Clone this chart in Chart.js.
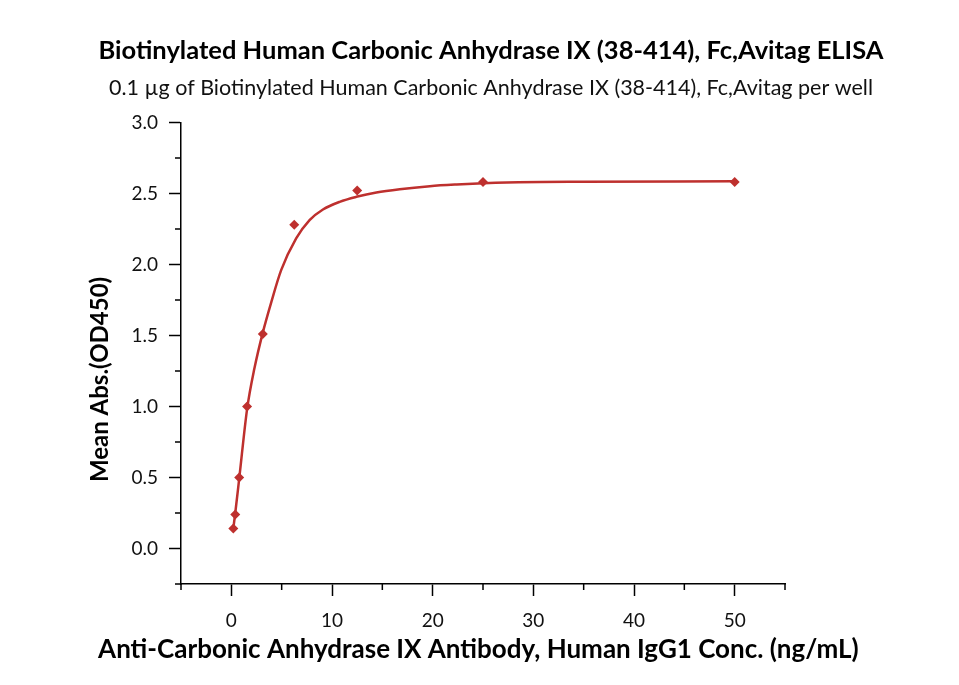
<!DOCTYPE html>
<html>
<head>
<meta charset="utf-8">
<script src="https://cdn.jsdelivr.net/npm/chart.js@4/dist/chart.umd.min.js"></script>
<style>
  html, body { margin: 0; padding: 0; background: #fff; }
  #wrap { width: 959px; height: 685px; position: relative; }
</style>
</head>
<body>
<div id="wrap"><canvas id="c" width="959" height="685"></canvas></div>
<script>
// ---- data ----
const concentrations = [0.195, 0.39, 0.78, 1.5625, 3.125, 6.25, 12.5, 25, 50];
const meanAbs        = [0.14, 0.24, 0.50, 1.00, 1.51, 2.28, 2.52, 2.58, 2.58];

// fitted curve
const fitX = [0.195, 0.39, 0.78, 1.5625, 2.3, 3.125, 3.95, 4.95, 6.44, 7.77, 9.1, 10.76, 12.42, 14.41, 16.73, 19.72, 22.38, 25.03, 27.36, 35, 50];
const fitY = [0.14, 0.25, 0.49, 0.98, 1.27, 1.52, 1.73, 1.96, 2.183, 2.312, 2.387, 2.441, 2.476, 2.507, 2.530, 2.551, 2.563, 2.572, 2.577, 2.582, 2.585];

const xMajorTicks = [0, 10, 20, 30, 40, 50];
const xMinorTicks = [-5, 5, 15, 25, 35, 45, 55];
const yMajorTicks = [0, 0.5, 1.0, 1.5, 2.0, 2.5, 3.0];
const yMinorTicks = [-0.25, 0.25, 0.75, 1.25, 1.75, 2.25, 2.75];
const yTickLabels = ['0.0', '0.5', '1.0', '1.5', '2.0', '2.5', '3.0'];

const titleText    = 'Biotinylated Human Carbonic Anhydrase IX (38-414), Fc,Avitag ELISA';
const subtitleText = '0.1 \u00b5g of Biotinylated Human Carbonic Anhydrase IX (38-414), Fc,Avitag per well';
const xTitle = 'Anti-Carbonic Anhydrase IX Antibody, Human IgG1 Conc. (ng/mL)';
const yTitle = 'Mean Abs.(OD450)';

const RED = 'rgb(190,48,46)';
const FONT = 'Lato, "Open Sans", sans-serif';

const minorTicksPlugin = {
  id: 'minorTicks',
  afterDraw(chart) {
    const ctx = chart.ctx;
    const xs = chart.scales.x, ys = chart.scales.y;
    ctx.save();
    ctx.strokeStyle = '#000';
    ctx.lineWidth = 1.5;
    ctx.beginPath();
    xMinorTicks.forEach(v => {
      const px = xs.getPixelForValue(v);
      ctx.moveTo(px, xs.top);
      ctx.lineTo(px, xs.top + 6);
    });
    yMinorTicks.forEach(v => {
      const py = ys.getPixelForValue(v);
      ctx.moveTo(ys.right, py);
      ctx.lineTo(ys.right - 6, py);
    });
    ctx.stroke();
    ctx.restore();
  }
};

new Chart(document.getElementById('c'), {
  type: 'scatter',
  data: {
    datasets: [
      {
        type: 'line',
        data: fitX.map((x, i) => ({ x, y: fitY[i] })),
        borderColor: RED,
        borderWidth: 2.5,
        pointRadius: 0,
        cubicInterpolationMode: 'monotone',
        fill: false
      },
      {
        data: concentrations.map((x, i) => ({ x, y: meanAbs[i] })),
        pointStyle: 'rectRot',
        pointRadius: 5,
        backgroundColor: RED,
        borderColor: RED,
        borderWidth: 0,
        showLine: false
      }
    ]
  },
  options: {
    responsive: false,
    animation: false,
    layout: { padding: { left: 23, right: 0, top: 0, bottom: 20 } },
    plugins: {
      legend: { display: false },
      tooltip: { enabled: false },
      title: {
        display: true, text: titleText, color: '#000',
        font: { family: FONT, size: 25.5, weight: 'bold' },
        padding: { top: 35, bottom: 5 }
      },
      subtitle: {
        display: true, text: subtitleText, color: '#111',
        font: { family: FONT, size: 21.5, weight: 'normal' },
        padding: { top: 5, bottom: 21 }
      }
    },
    scales: {
      x: {
        type: 'linear', min: -5, max: 55,
        afterBuildTicks: s => { s.ticks = xMajorTicks.map(v => ({ value: v })); },
        afterFit: s => { s.height = 50; },
        ticks: { color: '#111', font: { family: FONT, size: 19 }, padding: 13, maxRotation: 0 },
        grid: { drawOnChartArea: false, drawTicks: true, tickLength: 12, tickColor: '#000', tickWidth: 1.5 },
        border: { color: '#000', width: 1.5 },
        title: { display: false }
      },
      xTitleAxis: {
        type: 'linear', position: 'bottom', fullSize: true, min: 0, max: 1,
        afterFit: s => { s.height = 31; },
        ticks: { display: false },
        grid: { display: false },
        border: { display: false },
        title: { display: true, text: xTitle + '    ', color: '#000', padding: 0,
                 font: { family: FONT, size: 26, weight: 'bold' } }
      },
      y: {
        type: 'linear', min: -0.25, max: 3.0,
        afterBuildTicks: s => { s.ticks = yMajorTicks.map(v => ({ value: v })); },
        afterFit: s => { s.width = 158; },
        ticks: { color: '#111', font: { family: FONT, size: 19 }, padding: 11,
                 callback: (v, i) => yTickLabels[i] },
        grid: { drawOnChartArea: false, drawTicks: true, tickLength: 12, tickColor: '#000', tickWidth: 1.5 },
        border: { color: '#000', width: 1.5 },
        title: { display: true, text: yTitle + '         ', color: '#000', padding: { top: 63, bottom: 0 },
                 font: { family: FONT, size: 24, weight: 'bold' } }
      },
      yRightSpace: {
        type: 'linear', position: 'right', min: 0, max: 1,
        afterFit: s => { s.width = 174; },
        ticks: { display: false },
        grid: { display: false },
        border: { display: false },
        title: { display: false }
      }
    }
  },
  plugins: [minorTicksPlugin]
});
</script>
</body>
</html>
